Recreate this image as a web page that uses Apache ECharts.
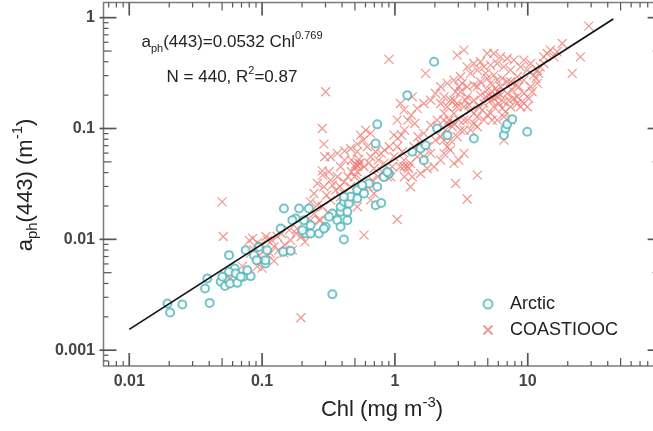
<!DOCTYPE html>
<html><head><meta charset="utf-8">
<script src="https://cdn.jsdelivr.net/npm/echarts@6/dist/echarts.min.js"></script>
<style>
html,body{margin:0;padding:0;background:#fff}
#wrap{position:relative;width:653px;height:431px}
#c,#t{position:absolute;left:0;top:0;width:653px;height:431px}
#t{pointer-events:none}
</style>
</head><body><div id="wrap"><div id="c"></div><div id="t"></div></div>
<script>
// ---------- data (Chl [mg m-3], aph(443) [m-1]) ----------
const seriesNames = ['Arctic', 'COASTIOOC'];
const xTickLabels = ['0.01', '0.1', '1', '10'];
const yTickLabels = ['0.001', '0.01', '0.1', '1'];

const arcticPoints = [
[0.0194,0.00264],[0.0203,0.00219],[0.0251,0.00258],[0.0403,0.00267],[0.0372,0.0036],[0.0387,0.00443],[0.0488,0.00414],[0.0526,0.0038],[0.0574,0.00399],[0.0651,0.00405],[0.0722,0.00459],[0.082,0.00466],[0.0774,0.00527],[0.0622,0.00546],[0.0564,0.00509],[0.0632,0.00492],[0.0564,0.0072],[0.0752,0.00798],[0.0869,0.0072],[0.106,0.00605],[0.106,0.00649],[0.144,0.00771],[0.164,0.00787],[0.338,0.0032],[0.146,0.019],[0.19,0.019],[0.225,0.019],[0.179,0.0154],[0.207,0.0149],[0.232,0.0134],[0.213,0.0113],[0.232,0.0113],[0.268,0.0113],[0.301,0.013],[0.338,0.0171],[0.39,0.0177],[0.368,0.0149],[0.438,0.0149],[0.39,0.013],[0.413,0.00996],[0.39,0.0197],[0.413,0.0218],[0.451,0.0211],[0.464,0.0242],[0.521,0.0234],[0.716,0.0203],[0.789,0.0213],[0.413,0.0242],[0.521,0.0278],[0.637,0.0319],[0.736,0.0298],[0.826,0.0366],[0.901,0.0393],[0.876,0.0406],[0.716,0.0732],[0.736,0.109],[1.24,0.2],[1.56,0.066],[1.65,0.0518],[1.7,0.0707],[2.08,0.1],[2.48,0.0871],[3.93,0.0812],[6.61,0.0871],[6.8,0.1],[7.0,0.109],[7.64,0.121],[9.91,0.0933],[1.97,0.4],[0.169,0.0149],[0.138,0.0125],[0.292,0.0125],[0.109,0.00798],[0.091,0.00649],[0.0947,0.00855],[0.069,0.00459],[0.0502,0.00459],[0.201,0.0121],[0.319,0.016],[0.438,0.0177],[0.585,0.0259],[1.35,0.0616],[0.568,0.0308]
];

const coastLow = [
[0.05,0.0218],[0.051,0.0106],[0.196,0.00196],[0.053,0.00475],[0.058,0.00444],[0.08,0.0098],[0.085,0.0102],[0.092,0.0093],[0.098,0.0089],[0.105,0.008],[0.087,0.008],[0.095,0.0072],[0.111,0.0072],[0.123,0.0064],[0.118,0.0098],[0.13,0.0106],[0.14,0.0113],[0.148,0.0089],[0.164,0.0098],[0.18,0.0113],[0.197,0.0106],[0.21,0.0095],[0.146,0.0075],[0.092,0.0057],[0.1,0.0055],[0.115,0.0075],[0.107,0.0106],[0.16,0.0121],[0.184,0.0125],[0.219,0.0113],[0.232,0.0149],[0.246,0.0171],[0.261,0.0204],[0.232,0.0218],[0.268,0.0149],[0.169,0.008],[0.134,0.008],[0.1,0.0065],[0.082,0.0075],[0.11,0.0098],[0.123,0.0086],[0.071,0.0057]
];
const coastMid = [
[0.284,0.0197],[0.306,0.025],[0.328,0.0226],[0.358,0.0278],[0.386,0.0298],[0.414,0.033],[0.443,0.0367],[0.47,0.0407],[0.5,0.0452],[0.536,0.0484],[0.585,0.0452],[0.637,0.049],[0.695,0.0436],[0.749,0.0519],[0.789,0.0596],[0.836,0.0638],[0.906,0.0684],[0.585,0.0109],[1.04,0.0151],[0.319,0.0407],[0.284,0.0415],[0.328,0.0556],[0.369,0.0596],[0.418,0.0629],[0.464,0.066],[0.521,0.0723],[0.578,0.0786],[0.296,0.0556],[0.39,0.0452],[0.418,0.0519],[0.47,0.0519],[0.536,0.0527],[0.497,0.0367],[0.558,0.0342],[0.626,0.0298],[0.695,0.0259],[0.745,0.0367],[0.803,0.0407],[0.585,0.0298],[0.521,0.0407],[0.414,0.0259],[0.464,0.0298],[0.369,0.0367],[0.328,0.0342],[0.39,0.0242],[0.292,0.0298],[0.338,0.0308],[0.246,0.0259],[0.261,0.0319],[0.521,0.0617],[0.545,0.0484],[0.506,0.0478],[0.527,0.0458],[0.656,0.0556],[0.715,0.0617],[0.619,0.0684],[0.656,0.0903],[0.602,0.0967],[0.552,0.0872],[0.826,0.0484],[0.876,0.0367],[0.955,0.0452],[0.675,0.0342],[0.656,0.0226],[0.521,0.0197],[0.443,0.0226],[0.319,0.0171],[0.276,0.0149],[0.301,0.2145],[0.284,0.1],[0.292,0.0723],[0.286,0.038]
];
const coastUpperMid = [
[0.983,0.0872],[1.05,0.0814],[1.12,0.0872],[1.18,0.0967],[1.25,0.119],[1.33,0.132],[1.41,0.111],[1.49,0.0842],[1.65,0.0903],[1.86,0.107],[2.08,0.119],[2.34,0.137],[2.55,0.119],[2.78,0.137],[2.94,0.157],[0.983,0.0556],[1.1,0.0452],[1.18,0.0367],[1.31,0.0298],[1.56,0.0393],[1.75,0.0436],[1.97,0.0452],[2.21,0.0519],[2.34,0.0596],[2.62,0.0638],[2.78,0.0484],[2.48,0.0684],[3.5,0.0231],[2.86,0.0319],[4.17,0.038],[1.17,0.0519],[1.31,0.0484],[1.24,0.0452],[1.17,0.0452],[1.27,0.0436],[1.39,0.0684],[1.56,0.0733],[1.75,0.0684],[1.86,0.0596],[2.02,0.0786],[2.21,0.0842],[2.41,0.0967],[2.7,0.1036],[3.03,0.119],[3.31,0.0967],[2.94,0.0842],[2.62,0.0786],[2.34,0.0786],[1.04,0.0684],[1.14,0.0617],[1.47,0.0556],[1.65,0.0556],[1.04,0.119],[1.17,0.1465],[1.35,0.193],[1.7,0.314],[0.901,0.42],[1.1,0.168],[1.47,0.152],[1.65,0.168],[1.86,0.18],[2.02,0.207],[2.21,0.168],[2.48,0.157],[2.78,0.18],[3.12,0.0967],[3.71,0.0967],[3.5,0.119],[3.93,0.111],[6.61,0.0786],[3.31,0.0596],[3.03,0.0519],[0.928,0.0367],[1.35,0.0367]
];
const coastHigh = [
[2.94,0.459],[3.31,0.509],[2.34,0.193],[2.21,0.238],[2.48,0.255],[2.78,0.273],[3.12,0.293],[3.71,0.314],[4.17,0.336],[4.68,0.36],[5.25,0.373],[5.89,0.386],[6.61,0.36],[7.42,0.336],[8.33,0.293],[9.35,0.273],[10.5,0.238],[11.8,0.255],[5.56,0.303],[4.95,0.283],[4.41,0.264],[3.93,0.246],[3.5,0.238],[3.12,0.2145],[3.5,0.193],[3.93,0.18],[4.17,0.238],[4.41,0.2],[4.68,0.168],[4.95,0.222],[5.25,0.18],[5.56,0.157],[5.89,0.193],[6.24,0.238],[6.61,0.174],[7.0,0.207],[7.42,0.157],[7.86,0.1865],[8.33,0.168],[8.83,0.157],[9.91,0.157],[4.17,0.1276],[4.68,0.119],[5.25,0.1367],[5.89,0.119],[3.71,0.1465],[3.31,0.157],[2.94,0.168],[2.62,0.18],[4.82,0.193],[5.1,0.2],[5.4,0.2145],[5.72,0.23],[6.06,0.168],[6.42,0.152],[6.8,0.142],[7.21,0.18],[7.64,0.222],[8.09,0.2465],[4.29,0.157],[4.54,0.1465],[4.95,0.132],[5.4,0.119],[3.93,0.1367],[3.61,0.1625],[3.4,0.18],[3.21,0.255],[3.03,0.238],[2.86,0.2145],[9.35,0.207],[10.2,0.1865],[10.8,0.2145],[11.5,0.283],[12.1,0.314],[13.2,0.386],[14.0,0.475],[14.8,0.509],[18.2,0.585],[21.6,0.314],[24.9,0.443],[28.8,0.839],[11.1,0.3035],[11.8,0.336],[9.91,0.336],[8.83,0.36],[7.86,0.414],[7.0,0.428],[6.24,0.443],[5.56,0.475],[4.95,0.475],[4.41,0.4],[3.93,0.386],[3.5,0.36],[15.7,0.443],[16.6,0.492],[13.2,0.443],[12.4,0.36],[10.5,0.386],[9.35,0.414],[8.58,0.238],[6.42,0.283],[7.0,0.264],[5.89,0.273],[7.42,0.264],[4.82,0.314],[7.42,0.119],[8.33,0.193],[9.1,0.174],[5.25,0.255],[5.56,0.1865],[6.24,0.2],[5.89,0.2145],[6.61,0.1276],[3.31,0.119],[4.17,0.1036],[2.78,0.111],[2.48,0.111],[2.34,0.119]
];
const coastPoints = coastLow.concat(coastMid, coastUpperMid, coastHigh);

// fit line: aph(443) = 0.0532 Chl^0.769, drawn between its two end points
const fitChl = [0.01, 44];
const fitAph = [0.00154, 0.973];

// ---------- chart ----------
const X_MIN = 0.0064, X_MAX = 100, Y_MIN = 0.00072, Y_MAX = 1.37;
const F = '"Liberation Sans", Arial, Helvetica, sans-serif';
const AXIS_COLOR = '#7c7c7c';
const TICK_COLOR = '#555';
const LABEL_COLOR = '#444';
const ARCTIC_COLOR = '#4fb5bc';
const COAST_COLOR = '#ef7d75';
const GRID = { left: 103.5, top: 2.5, right: -7.6, bottom: 65, containLabel: false, outerBoundsMode: 'none' };

function decadeLabel(v, labels) {
  const lg = Math.log10(v);
  if (Math.abs(lg - Math.round(lg)) > 1e-6) return '';
  const hit = labels.find(t => Math.abs(parseFloat(t) - v) / v < 1e-6);
  return hit || '';
}

const richBase = (fs, lh) => ({
  b: { fontSize: fs, lineHeight: lh, fontFamily: F, fill: '#222' },
  s: { fontSize: Math.round(fs * 0.66), lineHeight: Math.round(lh * 0.6), verticalAlign: 'bottom', fontFamily: F, fill: '#222' },
  p: { fontSize: Math.round(fs * 0.66), lineHeight: Math.round(lh * 0.42), verticalAlign: 'top', fontFamily: F, fill: '#222' }
});

const chart = echarts.init(document.getElementById('c'), null, { renderer: 'canvas' });
try {
  chart.setOption({
    animation: false,
    backgroundColor: '#fff',
    grid: Object.assign({ show: true, borderColor: AXIS_COLOR, borderWidth: 1.5, backgroundColor: 'transparent' }, GRID),
    xAxis: {
      type: 'log', logBase: 10, min: X_MIN, max: X_MAX,
      axisLine: { show: false }, axisTick: { show: false }, splitLine: { show: false },
      axisLabel: {
        formatter: v => decadeLabel(v, xTickLabels),
        fontSize: 16, fontWeight: 'bold', color: LABEL_COLOR, fontFamily: F, margin: 8
      }
    },
    yAxis: {
      type: 'log', logBase: 10, min: Y_MIN, max: Y_MAX,
      axisLine: { show: false }, axisTick: { show: false }, splitLine: { show: false },
      axisLabel: {
        formatter: v => decadeLabel(v, yTickLabels),
        fontSize: 16, fontWeight: 'bold', color: LABEL_COLOR, fontFamily: F, margin: 8.5
      }
    },
    legend: {
      data: seriesNames,
      orient: 'vertical', left: 476, top: 290,
      itemWidth: 34, itemHeight: 9, itemGap: 8,
      textStyle: { fontSize: 18, color: '#222', fontFamily: F },
      selectedMode: false
    },
    graphic: [
      { type: 'text', x: 232, y: 42, z: 100,
        style: { text: '{b|a}{s|ph}{b|(443)=0.0532 Chl}{p|0.769}', rich: richBase(17, 24), align: 'center', verticalAlign: 'middle' } },
      { type: 'text', x: 232, y: 77, z: 100,
        style: { text: '{b|N = 440, R}{p|2}{b|=0.87}', rich: richBase(17, 24), align: 'center', verticalAlign: 'middle' } },
      { type: 'text', x: 382, y: 410, z: 100,
        style: { text: '{b|Chl (mg m}{p|-3}{b|)}', rich: richBase(22, 30), align: 'center', verticalAlign: 'middle' } },
      { type: 'text', x: 25.5, y: 185, rotation: Math.PI / 2, z: 100,
        style: { text: '{b|a}{s|ph}{b|(443) (m}{p|-1}{b|)}', rich: richBase(22, 30), align: 'center', verticalAlign: 'middle' } }
    ],
    series: [
      {
        name: seriesNames[1], type: 'scatter',
        data: coastPoints,
        symbol: 'path://M0,0L10,10M10,0L0,10', symbolSize: 9,
        itemStyle: { color: 'none', borderColor: COAST_COLOR, borderWidth: 1.2 },
        z: 2
      },
      {
        name: seriesNames[0], type: 'scatter',
        data: arcticPoints,
        symbol: 'emptyCircle', symbolSize: 8,
        itemStyle: { color: ARCTIC_COLOR, borderColor: ARCTIC_COLOR, borderWidth: 1.2 },
        z: 3
      },
      {
        name: 'fit', type: 'line',
        data: fitChl.map((c, i) => [c, fitAph[i]]),
        showSymbol: false,
        lineStyle: { color: '#111', width: 1.7 },
        z: 4
      }
    ]
  });
} catch (e) { /* continue */ }

// ---------- tick overlay: a second, transparent chart with the same log axes ----------
const tickChart = echarts.init(document.getElementById('t'), null, { renderer: 'canvas' });
tickChart.setOption({
  animation: false,
  backgroundColor: 'transparent',
  grid: Object.assign({ show: false }, GRID),
  xAxis: { type: 'log', logBase: 10, min: X_MIN, max: X_MAX, axisLine: { show: false }, axisTick: { show: false }, axisLabel: { show: false }, splitLine: { show: false } },
  yAxis: { type: 'log', logBase: 10, min: Y_MIN, max: Y_MAX, axisLine: { show: false }, axisTick: { show: false }, axisLabel: { show: false }, splitLine: { show: false } },
  series: [{ type: 'scatter', data: [], silent: true }]
});
const toPx = p => tickChart.convertToPixel({ gridIndex: 0 }, p);
const tickLines = [];
const addLine = (x1, y1, x2, y2, w) => tickLines.push({
  type: 'line', shape: { x1: x1, y1: y1, x2: x2, y2: y2 },
  style: { stroke: TICK_COLOR, lineWidth: w }
});
for (let e = -4; e <= 2; e++) {
  for (let m = 1; m <= 9; m++) {
    const v = m * Math.pow(10, e);
    const L = m === 1 ? 13 : (m === 5 ? 8 : 5);
    const W = m === 1 ? 1.7 : 1.2;
    if (v >= X_MIN * 0.999 && v <= X_MAX * 1.001) {
      const b = toPx([v, Y_MIN]), t = toPx([v, Y_MAX]);
      addLine(b[0], b[1], b[0], b[1] - L, W);
      addLine(t[0], t[1], t[0], t[1] + L, W);
    }
    if (v >= Y_MIN * 0.999 && v <= Y_MAX * 1.001) {
      const l = toPx([X_MIN, v]), r = toPx([X_MAX, v]);
      const out = m === 1 ? 4 : 0;
      addLine(l[0] - out, l[1], l[0] + L, l[1], W);
      addLine(r[0], r[1], r[0] - L, r[1], W);
    }
  }
}
tickChart.setOption({ graphic: tickLines });
</script>
</body></html>
